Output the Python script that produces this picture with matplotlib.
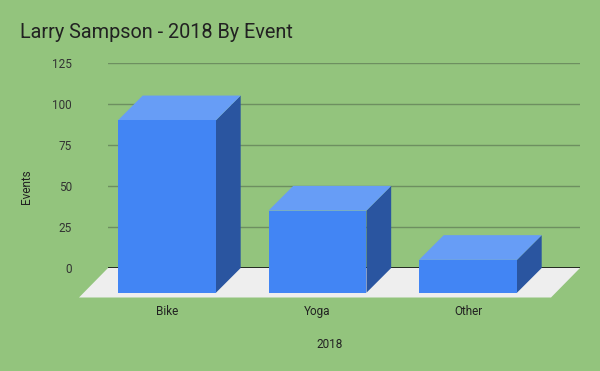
import matplotlib
matplotlib.use("Agg")
import matplotlib.pyplot as plt
from matplotlib.patches import Polygon

# data
categories = ["Bike", "Yoga", "Other"]
events = [105, 50, 20]
y_ticks = [0, 25, 50, 75, 100, 125]

bg = "#93c47d"
front_col = "#4285f4"
top_col = "#679df6"
side_col = "#2a55a0"
floor_col = "#eeeeee"
grid_col = "#6d8f60"
txt = "#222222"

plt.rcParams['font.family'] = ['Roboto', 'DejaVu Sans']

fig = plt.figure(figsize=(6, 3.71), dpi=100, facecolor=bg)
ax = fig.add_axes([108/600, (371-268)/371, 472/600, (268-62.7)/371])
ax.set_facecolor("none")
ax.set_xlim(-0.556, 2.58)
ax.set_ylim(0, 125)
for s in ax.spines.values():
    s.set_visible(False)

# pixels per data unit, used for the fake 3d depth
p0 = ax.transData.transform((0, 0))
p1 = ax.transData.transform((1, 1))
px_x = p1[0] - p0[0]
px_y = p1[1] - p0[1]
bar_dx, bar_dy = 24.7/px_x, 24.7/px_y
floor_dx, floor_dy = 29.0/px_x, 29.5/px_y

# gridlines (back plane)
for t in y_ticks[1:]:
    ax.axhline(t, color=grid_col, lw=1, zorder=1)

# floor
xl, xr = ax.get_xlim()
ax.add_patch(Polygon([(xl, 0), (xr, 0), (xr - floor_dx, -floor_dy), (xl - floor_dx, -floor_dy)],
                     closed=True, fc=floor_col, lw=0, clip_on=False, zorder=2))
ax.axhline(0, color="#111111", lw=1.2, zorder=3)

# bars
w = 0.651
for i, v in enumerate(events):
    x0, x1 = i - w/2, i + w/2
    side = [(x1 - bar_dx, -bar_dy), (x1, 0), (x1, v), (x1 - bar_dx, v - bar_dy)]
    top = [(x0 - bar_dx, v - bar_dy), (x1 - bar_dx, v - bar_dy), (x1, v), (x0, v)]
    front = [(x0 - bar_dx, -bar_dy), (x1 - bar_dx, -bar_dy), (x1 - bar_dx, v - bar_dy), (x0 - bar_dx, v - bar_dy)]
    ax.add_patch(Polygon(side, closed=True, fc=side_col, lw=0, clip_on=False, zorder=4))
    ax.add_patch(Polygon(top, closed=True, fc=top_col, lw=0, clip_on=False, zorder=4))
    ax.add_patch(Polygon(front, closed=True, fc=front_col, lw=0, clip_on=False, zorder=5))
    ax.annotate(categories[i], (i - bar_dx, 0), xytext=(0, -43.7*0.72), textcoords="offset points",
                ha="center", va="center", fontsize=8.5, color=txt)

ax.set_xticks([])
ax.set_yticks(y_ticks)
ax.set_yticklabels([str(t) for t in y_ticks], fontsize=8.5, color="#333333")
ax.tick_params(axis="y", length=0, pad=26)

fig.text(20/600, 1 - 37.7/371, "Larry Sampson - 2018 By Event", fontsize=14.3, color=txt,
         ha="left", va="baseline")
fig.text(26.7/600, 1 - 186.7/371, "Events", rotation=90, fontsize=8.5, color=txt,
         ha="center", va="center")
fig.text(330/600, 1 - 345/371, "2018", fontsize=8.5, color=txt, ha="center", va="center")

fig.savefig("out.png", dpi=100, facecolor=bg)
